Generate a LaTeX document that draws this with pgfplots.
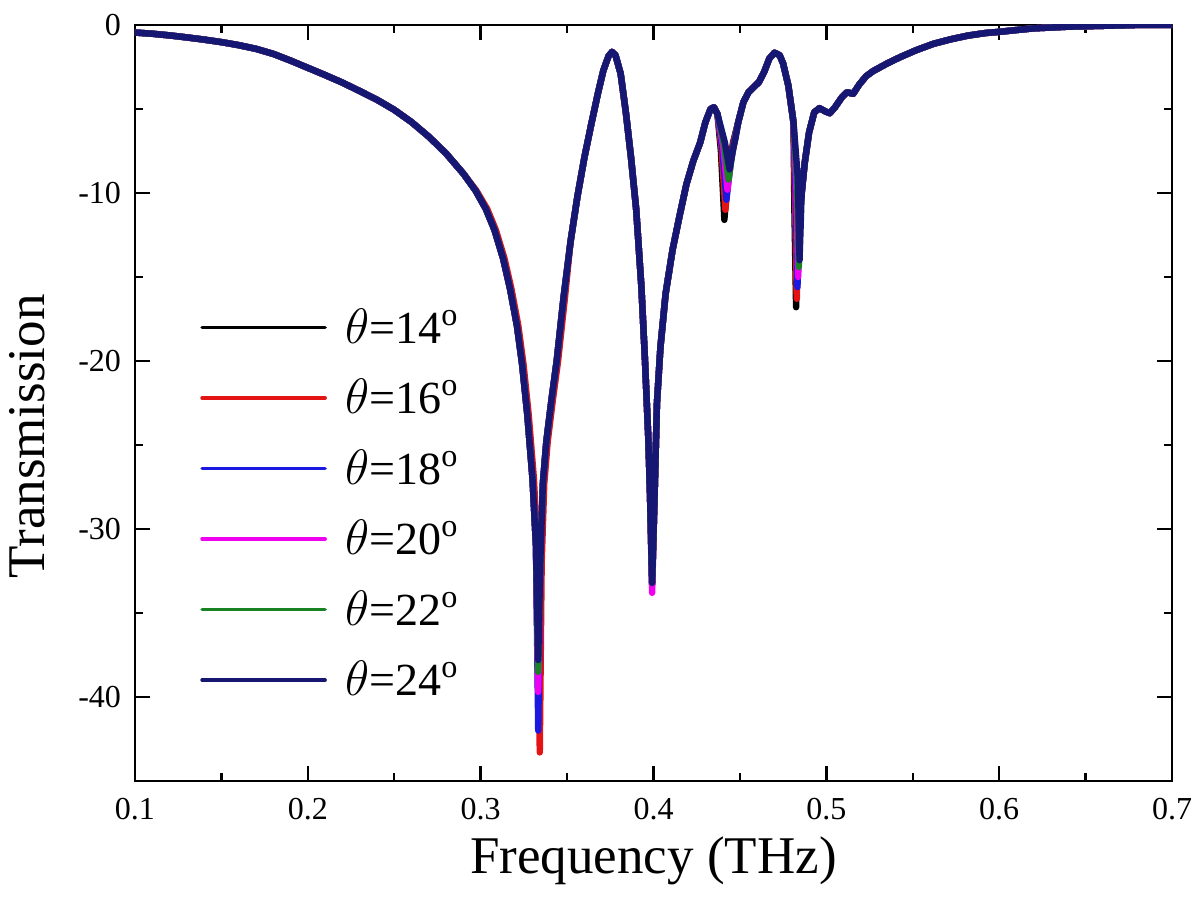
\documentclass[border=0pt]{standalone}
\usepackage{pgfplots}
\pgfplotsset{compat=1.18}
\usepackage{pgfplotstable}
\usepackage{fontspec}
\setmainfont{Liberation Serif}

\definecolor{c14}{RGB}{0,0,0}
\definecolor{c16}{RGB}{228,20,20}
\definecolor{c18}{RGB}{25,25,225}
\definecolor{c20}{RGB}{240,0,240}
\definecolor{c22}{RGB}{25,130,35}
\definecolor{c24}{RGB}{22,22,115}

% theta = 14
\pgfplotstableread{
f v
0.100 -0.45
0.110 -0.52
0.120 -0.62
0.130 -0.74
0.140 -0.87
0.150 -1.02
0.160 -1.20
0.170 -1.42
0.180 -1.72
0.190 -2.12
0.200 -2.55
0.210 -2.98
0.220 -3.43
0.230 -3.93
0.240 -4.45
0.250 -5.05
0.260 -5.78
0.270 -6.65
0.280 -7.65
0.290 -8.85
0.297 -9.85
0.303 -10.95
0.308 -12.20
0.313 -13.90
0.317 -15.70
0.321 -17.90
0.324 -20.20
0.327 -23.20
0.330 -27.00
0.332 -31.00
0.3335 -41.00
0.3345 -32.00
0.336 -27.30
0.338 -24.80
0.341 -22.30
0.344 -20.00
0.348 -16.20
0.352 -12.90
0.356 -10.20
0.360 -7.90
0.364 -5.90
0.368 -4.00
0.371 -2.70
0.374 -1.85
0.376 -1.60
0.378 -1.80
0.381 -2.90
0.384 -5.20
0.387 -7.90
0.390 -11.00
0.393 -15.60
0.395 -19.80
0.397 -24.60
0.398 -28.00
0.3992 -33.30
0.4005 -28.50
0.402 -22.50
0.404 -19.20
0.407 -16.00
0.411 -13.40
0.415 -11.40
0.419 -9.50
0.423 -8.10
0.427 -7.00
0.430 -5.80
0.433 -5.00
0.435 -4.90
0.437 -5.30
0.4390 -7.50
0.4410 -11.60
0.4432 -8.80
0.4460 -7.00
0.449 -5.80
0.452 -4.60
0.455 -4.00
0.458 -3.70
0.461 -3.40
0.464 -2.80
0.467 -2.00
0.470 -1.65
0.473 -1.80
0.475 -2.30
0.478 -3.60
0.481 -5.80
0.4815 -10.90
0.4825 -16.80
0.4837 -12.10
0.4875 -8.20
0.490 -6.40
0.493 -5.20
0.496 -4.95
0.4995 -5.15
0.502 -5.25
0.505 -4.90
0.509 -4.30
0.512 -4.00
0.5155 -4.10
0.519 -3.55
0.523 -3.05
0.527 -2.75
0.535 -2.30
0.543 -1.90
0.552 -1.50
0.562 -1.12
0.572 -0.85
0.582 -0.63
0.592 -0.48
0.601 -0.40
0.610 -0.30
0.620 -0.20
0.630 -0.15
0.640 -0.10
0.660 -0.05
0.680 0.00
0.700 0.00
}\tA

% theta = 16
\pgfplotstableread{
f v
0.100 -0.45
0.110 -0.52
0.120 -0.62
0.130 -0.74
0.140 -0.87
0.150 -1.02
0.160 -1.20
0.170 -1.42
0.180 -1.72
0.190 -2.12
0.200 -2.55
0.210 -2.98
0.220 -3.43
0.230 -3.93
0.240 -4.45
0.250 -5.05
0.260 -5.78
0.270 -6.65
0.280 -7.65
0.290 -8.85
0.2975 -9.85
0.3038 -10.95
0.3088 -12.20
0.3138 -13.90
0.3178 -15.70
0.3218 -17.90
0.3248 -20.20
0.3278 -23.20
0.3308 -27.00
0.3328 -31.00
0.3342 -43.30
0.3353 -32.00
0.3368 -27.30
0.3388 -24.80
0.3418 -22.30
0.3448 -20.00
0.3488 -16.20
0.352 -12.90
0.356 -10.20
0.360 -7.90
0.364 -5.90
0.368 -4.00
0.371 -2.70
0.374 -1.85
0.376 -1.60
0.378 -1.80
0.381 -2.90
0.384 -5.20
0.387 -7.90
0.390 -11.00
0.393 -15.60
0.395 -19.80
0.397 -24.60
0.398 -28.00
0.3992 -33.20
0.4005 -28.50
0.402 -22.50
0.404 -19.20
0.407 -16.00
0.411 -13.40
0.415 -11.40
0.419 -9.50
0.423 -8.10
0.427 -7.00
0.430 -5.80
0.433 -5.00
0.435 -4.90
0.437 -5.30
0.4394 -7.40
0.4416 -11.00
0.4438 -8.60
0.4462 -7.00
0.449 -5.80
0.452 -4.60
0.455 -4.00
0.458 -3.70
0.461 -3.40
0.464 -2.80
0.467 -2.00
0.470 -1.65
0.473 -1.80
0.475 -2.30
0.478 -3.60
0.481 -5.80
0.4819 -10.60
0.4829 -16.30
0.4841 -11.70
0.4875 -8.20
0.490 -6.40
0.493 -5.20
0.496 -4.95
0.4995 -5.15
0.502 -5.25
0.505 -4.90
0.509 -4.30
0.512 -4.00
0.5155 -4.10
0.519 -3.55
0.523 -3.05
0.527 -2.75
0.535 -2.30
0.543 -1.90
0.552 -1.50
0.562 -1.12
0.572 -0.85
0.582 -0.63
0.592 -0.48
0.601 -0.40
0.610 -0.30
0.620 -0.20
0.630 -0.15
0.640 -0.10
0.660 -0.05
0.680 0.00
0.700 0.00
}\tB

% theta = 18
\pgfplotstableread{
f v
0.100 -0.45
0.110 -0.52
0.120 -0.62
0.130 -0.74
0.140 -0.87
0.150 -1.02
0.160 -1.20
0.170 -1.42
0.180 -1.72
0.190 -2.12
0.200 -2.55
0.210 -2.98
0.220 -3.43
0.230 -3.93
0.240 -4.45
0.250 -5.05
0.260 -5.78
0.270 -6.65
0.280 -7.65
0.290 -8.85
0.297 -9.85
0.303 -10.95
0.308 -12.20
0.313 -13.90
0.317 -15.70
0.321 -17.90
0.324 -20.20
0.327 -23.20
0.330 -27.00
0.332 -31.00
0.3333 -42.00
0.3345 -32.00
0.336 -27.30
0.338 -24.80
0.341 -22.30
0.344 -20.00
0.348 -16.20
0.352 -12.90
0.356 -10.20
0.360 -7.90
0.364 -5.90
0.368 -4.00
0.371 -2.70
0.374 -1.85
0.376 -1.60
0.378 -1.80
0.381 -2.90
0.384 -5.20
0.387 -7.90
0.390 -11.00
0.393 -15.60
0.395 -19.80
0.397 -24.60
0.398 -28.00
0.3992 -33.20
0.4005 -28.50
0.402 -22.50
0.404 -19.20
0.407 -16.00
0.411 -13.40
0.415 -11.40
0.419 -9.50
0.423 -8.10
0.427 -7.00
0.430 -5.80
0.433 -5.00
0.435 -4.90
0.437 -5.30
0.4398 -7.30
0.4422 -10.40
0.4444 -8.30
0.4465 -7.00
0.449 -5.80
0.452 -4.60
0.455 -4.00
0.458 -3.70
0.461 -3.40
0.464 -2.80
0.467 -2.00
0.470 -1.65
0.473 -1.80
0.475 -2.30
0.478 -3.60
0.481 -5.80
0.4823 -10.10
0.4833 -15.60
0.4845 -11.20
0.4875 -8.20
0.490 -6.40
0.493 -5.20
0.496 -4.95
0.4995 -5.15
0.502 -5.25
0.505 -4.90
0.509 -4.30
0.512 -4.00
0.5155 -4.10
0.519 -3.55
0.523 -3.05
0.527 -2.75
0.535 -2.30
0.543 -1.90
0.552 -1.50
0.562 -1.12
0.572 -0.85
0.582 -0.63
0.592 -0.48
0.601 -0.40
0.610 -0.30
0.620 -0.20
0.630 -0.15
0.640 -0.10
0.660 -0.05
0.680 0.00
0.700 0.00
}\tC

% theta = 20
\pgfplotstableread{
f v
0.100 -0.45
0.110 -0.52
0.120 -0.62
0.130 -0.74
0.140 -0.87
0.150 -1.02
0.160 -1.20
0.170 -1.42
0.180 -1.72
0.190 -2.12
0.200 -2.55
0.210 -2.98
0.220 -3.43
0.230 -3.93
0.240 -4.45
0.250 -5.05
0.260 -5.78
0.270 -6.65
0.280 -7.65
0.290 -8.85
0.297 -9.85
0.303 -10.95
0.308 -12.20
0.313 -13.90
0.317 -15.70
0.321 -17.90
0.324 -20.20
0.327 -23.20
0.330 -27.00
0.332 -31.00
0.3333 -39.70
0.3345 -32.00
0.336 -27.30
0.338 -24.80
0.341 -22.30
0.344 -20.00
0.348 -16.20
0.352 -12.90
0.356 -10.20
0.360 -7.90
0.364 -5.90
0.368 -4.00
0.371 -2.70
0.374 -1.85
0.376 -1.60
0.378 -1.80
0.381 -2.90
0.384 -5.20
0.387 -7.90
0.390 -11.00
0.393 -15.60
0.395 -19.80
0.397 -24.60
0.398 -28.00
0.3992 -33.80
0.4005 -28.50
0.402 -22.50
0.404 -19.20
0.407 -16.00
0.411 -13.40
0.415 -11.40
0.419 -9.50
0.423 -8.10
0.427 -7.00
0.430 -5.80
0.433 -5.00
0.435 -4.90
0.437 -5.30
0.4403 -7.20
0.4428 -9.80
0.4450 -8.00
0.4468 -7.00
0.449 -5.80
0.452 -4.60
0.455 -4.00
0.458 -3.70
0.461 -3.40
0.464 -2.80
0.467 -2.00
0.470 -1.65
0.473 -1.80
0.475 -2.30
0.478 -3.60
0.481 -5.80
0.4827 -9.75
0.4837 -15.00
0.4849 -10.80
0.4875 -8.20
0.490 -6.40
0.493 -5.20
0.496 -4.95
0.4995 -5.15
0.502 -5.25
0.505 -4.90
0.509 -4.30
0.512 -4.00
0.5155 -4.10
0.519 -3.55
0.523 -3.05
0.527 -2.75
0.535 -2.30
0.543 -1.90
0.552 -1.50
0.562 -1.12
0.572 -0.85
0.582 -0.63
0.592 -0.48
0.601 -0.40
0.610 -0.30
0.620 -0.20
0.630 -0.15
0.640 -0.10
0.660 -0.05
0.680 0.00
0.700 0.00
}\tD

% theta = 22
\pgfplotstableread{
f v
0.100 -0.45
0.110 -0.52
0.120 -0.62
0.130 -0.74
0.140 -0.87
0.150 -1.02
0.160 -1.20
0.170 -1.42
0.180 -1.72
0.190 -2.12
0.200 -2.55
0.210 -2.98
0.220 -3.43
0.230 -3.93
0.240 -4.45
0.250 -5.05
0.260 -5.78
0.270 -6.65
0.280 -7.65
0.290 -8.85
0.297 -9.85
0.303 -10.95
0.308 -12.20
0.313 -13.90
0.317 -15.70
0.321 -17.90
0.324 -20.20
0.327 -23.20
0.330 -27.00
0.332 -31.00
0.3333 -38.50
0.3345 -32.00
0.336 -27.30
0.338 -24.80
0.341 -22.30
0.344 -20.00
0.348 -16.20
0.352 -12.90
0.356 -10.20
0.360 -7.90
0.364 -5.90
0.368 -4.00
0.371 -2.70
0.374 -1.85
0.376 -1.60
0.378 -1.80
0.381 -2.90
0.384 -5.20
0.387 -7.90
0.390 -11.00
0.393 -15.60
0.395 -19.80
0.397 -24.60
0.398 -28.00
0.3992 -33.20
0.4005 -28.50
0.402 -22.50
0.404 -19.20
0.407 -16.00
0.411 -13.40
0.415 -11.40
0.419 -9.50
0.423 -8.10
0.427 -7.00
0.430 -5.80
0.433 -5.00
0.435 -4.90
0.437 -5.30
0.4408 -7.10
0.4434 -9.20
0.4455 -7.70
0.4470 -6.90
0.449 -5.80
0.452 -4.60
0.455 -4.00
0.458 -3.70
0.461 -3.40
0.464 -2.80
0.467 -2.00
0.470 -1.65
0.473 -1.80
0.475 -2.30
0.478 -3.60
0.481 -5.80
0.4831 -9.40
0.4841 -14.40
0.4853 -10.40
0.4875 -8.20
0.490 -6.40
0.493 -5.20
0.496 -4.95
0.4995 -5.15
0.502 -5.25
0.505 -4.90
0.509 -4.30
0.512 -4.00
0.5155 -4.10
0.519 -3.55
0.523 -3.05
0.527 -2.75
0.535 -2.30
0.543 -1.90
0.552 -1.50
0.562 -1.12
0.572 -0.85
0.582 -0.63
0.592 -0.48
0.601 -0.40
0.610 -0.30
0.620 -0.20
0.630 -0.15
0.640 -0.10
0.660 -0.05
0.680 0.00
0.700 0.00
}\tE

% theta = 24
\pgfplotstableread{
f v
0.100 -0.45
0.110 -0.52
0.120 -0.62
0.130 -0.74
0.140 -0.87
0.150 -1.02
0.160 -1.20
0.170 -1.42
0.180 -1.72
0.190 -2.12
0.200 -2.55
0.210 -2.98
0.220 -3.43
0.230 -3.93
0.240 -4.45
0.250 -5.05
0.260 -5.78
0.270 -6.65
0.280 -7.65
0.290 -8.85
0.297 -9.85
0.303 -10.95
0.308 -12.20
0.313 -13.90
0.317 -15.70
0.321 -17.90
0.324 -20.20
0.327 -23.20
0.330 -27.00
0.332 -31.00
0.3333 -37.80
0.3345 -32.00
0.336 -27.30
0.338 -24.80
0.341 -22.30
0.344 -20.00
0.348 -16.20
0.352 -12.90
0.356 -10.20
0.360 -7.90
0.364 -5.90
0.368 -4.00
0.371 -2.70
0.374 -1.85
0.376 -1.60
0.378 -1.80
0.381 -2.90
0.384 -5.20
0.387 -7.90
0.390 -11.00
0.393 -15.60
0.395 -19.80
0.397 -24.60
0.398 -28.00
0.3992 -33.20
0.4005 -28.50
0.402 -22.50
0.404 -19.20
0.407 -16.00
0.411 -13.40
0.415 -11.40
0.419 -9.50
0.423 -8.10
0.427 -7.00
0.430 -5.80
0.433 -5.00
0.435 -4.90
0.437 -5.30
0.4413 -7.00
0.4440 -8.60
0.4460 -7.40
0.4475 -6.70
0.449 -5.80
0.452 -4.60
0.455 -4.00
0.458 -3.70
0.461 -3.40
0.464 -2.80
0.467 -2.00
0.470 -1.65
0.473 -1.80
0.475 -2.30
0.478 -3.60
0.481 -5.80
0.4835 -9.10
0.4845 -14.00
0.4857 -10.10
0.4875 -8.20
0.490 -6.40
0.493 -5.20
0.496 -4.95
0.4995 -5.15
0.502 -5.25
0.505 -4.90
0.509 -4.30
0.512 -4.00
0.5155 -4.10
0.519 -3.55
0.523 -3.05
0.527 -2.75
0.535 -2.30
0.543 -1.90
0.552 -1.50
0.562 -1.12
0.572 -0.85
0.582 -0.63
0.592 -0.48
0.601 -0.40
0.610 -0.30
0.620 -0.20
0.630 -0.15
0.640 -0.10
0.660 -0.05
0.680 0.00
0.700 0.00
}\tF

\begin{document}
\begin{tikzpicture}
\useasboundingbox (-67.5pt,-58.5pt) rectangle (532.5pt,390.5pt);
\begin{axis}[
  at={(0pt,0pt)}, anchor=south west,
  scale only axis,
  width=518.5pt, height=378pt,
  xmin=0.1, xmax=0.7, ymin=-45, ymax=0,
  xtick={0.1,0.2,0.3,0.4,0.5,0.6,0.7},
  xticklabels={0.1,0.2,0.3,0.4,0.5,0.6,0.7},
  minor xtick={0.15,0.25,0.35,0.45,0.55,0.65},
  ytick={-40,-30,-20,-10,0},
  yticklabels={-40,-30,-20,-10,0},
  minor ytick={-45,-35,-25,-15,-5},
  tick align=inside,
  major tick length=7.5pt,
  minor tick length=4pt,
  every tick/.style={black, line width=1.2pt},
  axis line style={black, line width=1.3pt},
  tick label style={font=\fontsize{16}{19}\selectfont},
  xticklabel style={inner sep=1pt, text height=11pt, text depth=0pt, yshift=-7.3pt},
  yticklabel style={xshift=-3.5pt},
  xlabel={Frequency (THz)},
  ylabel={Transmission},
  xlabel style={font=\fontsize{26.5}{30}\selectfont, inner sep=0pt, text height=19pt, text depth=6pt,
    at={(axis description cs:0.5,-0.1217)}, anchor=base},
  ylabel style={font=\fontsize{26.5}{30}\selectfont, at={(axis description cs:-0.0868,0.456)}, anchor=base},
  legend style={draw=none, fill=none, font=\fontsize{23}{27}\selectfont,
    at={(axis description cs:0.0568,0.636)}, anchor=north west, row sep=12.5pt},
  legend cell align=left,
  legend image code/.code={\draw[#1, line width=1.8pt, line cap=round] (0pt,0pt) -- (61.5pt,0pt); \path (68pt,0pt);},
  every axis plot/.append style={line width=3.2pt, line join=round, line cap=round},
]
\addplot[c14] table[x=f,y=v] {\tA};
\addlegendentry{\(\theta\)=14\textsuperscript{o}}
\addplot[c16] table[x=f,y=v] {\tB};
\addlegendentry{\(\theta\)=16\textsuperscript{o}}
\addplot[c18] table[x=f,y=v] {\tC};
\addlegendentry{\(\theta\)=18\textsuperscript{o}}
\addplot[c20] table[x=f,y=v] {\tD};
\addlegendentry{\(\theta\)=20\textsuperscript{o}}
\addplot[c22] table[x=f,y=v] {\tE};
\addlegendentry{\(\theta\)=22\textsuperscript{o}}
\addplot[c24] table[x=f,y=v] {\tF};
\addlegendentry{\(\theta\)=24\textsuperscript{o}}
\end{axis}
\end{tikzpicture}
\end{document}
